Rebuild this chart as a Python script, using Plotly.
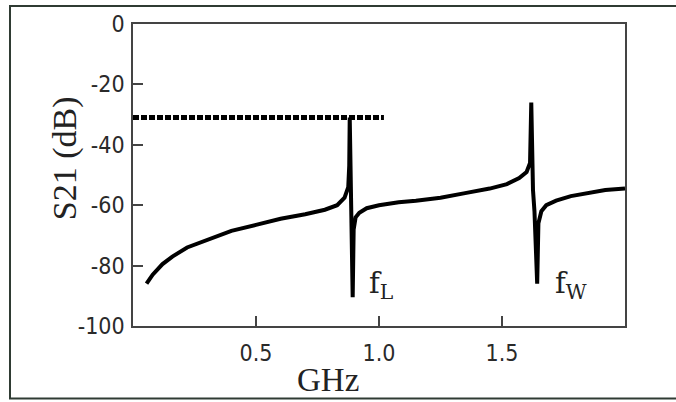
################################################################################
import plotly.graph_objs as go
################################################################################

freq = [0.055, 0.08, 0.12, 0.16, 0.22, 0.30, 0.40, 0.50, 0.60, 0.70, 0.78, 0.83,
        0.86, 0.875, 0.879, 0.881, 0.885, 0.889, 0.893, 0.897, 0.905, 0.92, 0.95,
        1.00, 1.08, 1.15, 1.25, 1.35, 1.45, 1.52, 1.57, 1.60, 1.614, 1.619, 1.622,
        1.626, 1.632, 1.638, 1.643, 1.648, 1.66, 1.68, 1.72, 1.78, 1.85, 1.92, 2.00]
s21 = [-86, -83, -79.5, -77, -74, -71.5, -68.5, -66.5, -64.5, -63, -61.5, -60,
       -57.5, -54, -47, -31, -50, -75, -90.5, -68, -64, -62.5, -61,
       -60, -59, -58.5, -57.5, -56, -54.5, -53, -51, -49, -46, -26, -40,
       -55, -62, -72, -86, -66, -62, -60, -58.5, -57, -56, -55, -54.5]

# dotted reference level
limit_x = [0.0, 1.02]
limit_y = [-31, -31]

# axis ticks
x_ticks = [0.5, 1.0, 1.5]
x_labels = ['0.5', '1.0', '1.5']
y_ticks = [0, -20, -40, -60, -80, -100]
y_labels = ['0', '-20', '-40', '-60', '-80', '-100']

# resonance labels
res_names = ['f<sub>L</sub>', 'f<sub>W</sub>']
res_x = [0.952, 1.708]
res_y = [-86.5, -86.5]

################################################################################

trace0 = go.Scatter(x=freq, y=s21, mode='lines',
                    line=dict(color='black', width=4), hoverinfo='skip')
trace1 = go.Scatter(x=limit_x, y=limit_y, mode='lines',
                    line=dict(color='black', width=5, dash='6px,2px'), hoverinfo='skip')

tickfont = dict(family='Liberation Sans Narrow, DejaVu Sans Condensed, Arial Narrow, sans-serif',
                size=23, color='#2a2a2a')
axcommon = dict(showline=True, linecolor='#444', linewidth=1.5, mirror=True,
                ticks='inside', ticklen=10, tickcolor='#444', tickwidth=1.5,
                showgrid=False, zeroline=False, tickfont=tickfont)

layout = go.Layout(
    width=676, height=402,
    margin=dict(l=133, r=51, t=24, b=76),
    paper_bgcolor='white', plot_bgcolor='white',
    showlegend=False,
    xaxis=dict(range=[0, 2.0], tickvals=x_ticks, ticktext=x_labels,
               ticklabelstandoff=6, **axcommon),
    yaxis=dict(range=[-100, 0], tickvals=y_ticks, ticktext=y_labels,
               ticklabelstandoff=2, **axcommon),
    # outer frame (right side runs off the page)
    shapes=[dict(type='rect', xref='paper', yref='paper',
                 x0=-0.25, x1=1.3, y0=-0.24, y1=1.06,
                 line=dict(color='#2f3b33', width=2))],
)

annotations = []
# axis titles
annotations.append(dict(text='GHz', xref='paper', yref='paper', x=0.396, y=-0.18,
                        showarrow=False, xanchor='center', yanchor='middle',
                        font=dict(family='Liberation Serif, Times New Roman, serif', size=33, color='#222')))
annotations.append(dict(text='S21 (dB)', xref='paper', yref='paper', x=-0.138, y=0.556,
                        textangle=-90, showarrow=False, xanchor='center', yanchor='middle',
                        font=dict(family='Liberation Serif, Times New Roman, serif', size=34, color='#222')))
for i in range(len(res_names)):
    annotations.append(dict(text=res_names[i], x=res_x[i], y=res_y[i], showarrow=False,
                            xanchor='left', yanchor='middle',
                            font=dict(family='DejaVu Serif, Courier New, serif', size=29, color='#222')))
layout.annotations = annotations

fig = go.Figure(data=[trace0, trace1], layout=layout)
# drop the default body margin so the figure sits at the page corner
fig.write_html("out.html", config={'displayModeBar': False},
               post_script="document.body.style.margin='0';")
